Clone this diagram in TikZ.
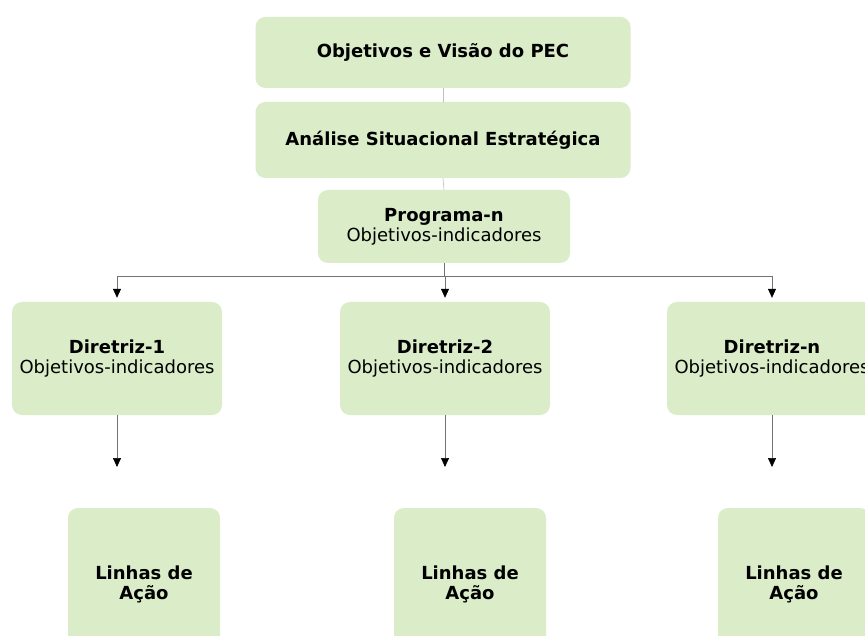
\documentclass[tikz,border=0pt]{standalone}
\usepackage{fontspec}
\setmainfont{DejaVu Sans}
\usetikzlibrary{arrows.meta}
\definecolor{boxgreen}{RGB}{218,236,200}
\begin{document}
\begin{tikzpicture}[x=1pt,y=-1pt,
  box/.style={fill=boxgreen, rounded corners=10pt, inner sep=0pt, align=center,
    font=\fontsize{18}{20}\selectfont},
  conn/.style={draw=black!55, line width=0.7pt},
  faint/.style={draw=black!25, line width=0.6pt},
  arr/.style={conn, -{Triangle[width=8pt,length=9pt,black]}}]
\clip (0,0) rectangle (865,636);
\fill[white] (0,0) rectangle (865,636);
% top column
\node[box, minimum width=375pt, minimum height=71pt] (obj) at (443,52.5) {\bfseries Objetivos e Visão do PEC};
\node[box, minimum width=375pt, minimum height=76pt] (ana) at (443,140) {\bfseries Análise Situacional Estratégica};
\node[box, minimum width=252pt, minimum height=73pt] (prog) at (444,226.5) {\bfseries Programa-n\\Objetivos-indicadores};
% directives
\node[box, minimum width=210pt, minimum height=113pt] (d1) at (117,358.5) {\bfseries Diretriz-1\\Objetivos-indicadores};
\node[box, minimum width=210pt, minimum height=113pt] (d2) at (445,358.5) {\bfseries Diretriz-2\\Objetivos-indicadores};
\node[box, minimum width=210pt, minimum height=113pt] (dn) at (772,358.5) {\bfseries Diretriz-n\\Objetivos-indicadores};
% action lines
\node[box, minimum width=152pt, minimum height=152pt] (l1) at (144,584) {\bfseries Linhas de\\\bfseries Ação};
\node[box, minimum width=152pt, minimum height=152pt] (l2) at (470,584) {\bfseries Linhas de\\\bfseries Ação};
\node[box, minimum width=152pt, minimum height=152pt] (ln) at (794,584) {\bfseries Linhas de\\\bfseries Ação};
% connectors
\draw[faint] (obj.south) -- (ana.north);
\draw[faint] (ana.south) -- (prog.north);
\coordinate (j) at (444,276);
\coordinate (jl) at (117,276);
\coordinate (jr) at (772,276);
\draw[conn] (prog.south) -- (j);
\draw[conn] (jl) -- (jr);
\draw[arr, shorten >=4pt] (jl) -- (d1.north);
\draw[arr, shorten >=4pt] (j -| d2.north) -- (d2.north);
\draw[arr, shorten >=4pt] (jr) -- (dn.north);
\coordinate (e1) at (117,467);
\coordinate (e2) at (445,467);
\coordinate (en) at (772,467);
\draw[arr] (d1.south) -- (e1);
\draw[arr] (d2.south) -- (e2);
\draw[arr] (dn.south) -- (en);
\end{tikzpicture}
\end{document}
